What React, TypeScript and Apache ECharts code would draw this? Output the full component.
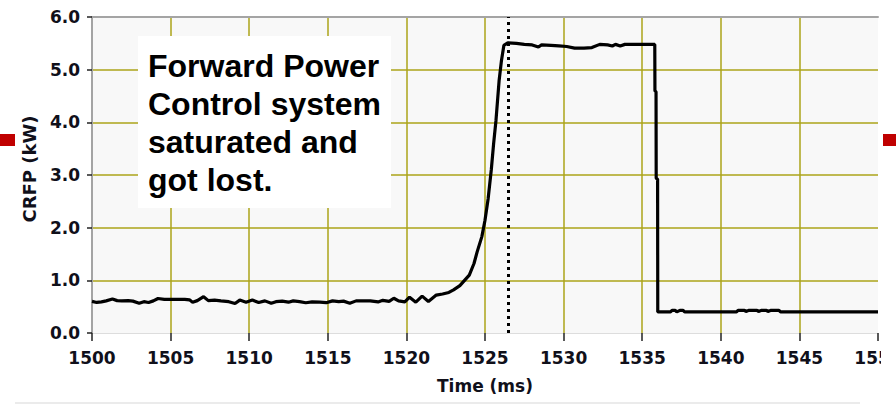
import React, { useEffect, useRef } from "react";
import * as echarts from "echarts";

// Time (ms), CRFP (kW)
const times: number[] = [
  1500.0, 1500.3, 1500.6, 1500.9, 1501.3, 1501.6, 1501.9, 1502.3, 1502.6, 1503.0,
  1503.3, 1503.6, 1503.9, 1504.2, 1504.6, 1505.0, 1505.5, 1505.9, 1506.2, 1506.4,
  1506.7, 1507.1, 1507.4, 1507.8, 1508.2, 1508.7, 1509.1, 1509.4, 1509.8, 1510.2,
  1510.6, 1511.0, 1511.4, 1511.7, 1512.1, 1512.5, 1512.8, 1513.2, 1513.6, 1514.0,
  1514.5, 1514.9, 1515.3, 1515.7, 1516.0, 1516.4, 1516.8, 1517.2, 1517.7, 1518.2,
  1518.5, 1518.9, 1519.2, 1519.5, 1519.9, 1520.2, 1520.6, 1521.0, 1521.4, 1521.9,
  1522.3, 1522.7, 1523.0, 1523.4, 1523.7, 1524.0, 1524.3, 1524.5, 1524.8, 1525.0,
  1525.2, 1525.4, 1525.55, 1525.7, 1525.9, 1526.05, 1526.2, 1526.45, 1527.0, 1527.5,
  1528.0, 1528.4, 1528.6, 1529.2, 1529.7, 1530.2, 1530.7, 1531.3, 1531.8, 1532.3,
  1532.8, 1533.1, 1533.3, 1533.6, 1533.9, 1534.3, 1535.0, 1535.8, 1535.81, 1535.88,
  1535.89, 1535.98, 1535.99, 1536.8, 1536.9, 1537.1, 1537.2, 1537.4, 1537.6, 1537.7,
  1541.0, 1541.1, 1541.5, 1541.6, 1541.8, 1542.3, 1542.4, 1542.6, 1542.9, 1543.0,
  1543.2, 1543.7, 1543.8, 1550.0,
];
const crfp: number[] = [
  0.6, 0.58, 0.59, 0.61, 0.645, 0.615, 0.61, 0.615, 0.605, 0.565,
  0.595, 0.58, 0.61, 0.655, 0.64, 0.64, 0.64, 0.64, 0.63, 0.585,
  0.615, 0.69, 0.615, 0.625, 0.61, 0.595, 0.56, 0.625, 0.585, 0.625,
  0.58, 0.61, 0.565, 0.595, 0.605, 0.585, 0.61, 0.595, 0.575, 0.59,
  0.585, 0.575, 0.61, 0.595, 0.605, 0.565, 0.61, 0.61, 0.61, 0.59,
  0.62, 0.6, 0.66, 0.61, 0.59, 0.68, 0.585, 0.7, 0.6, 0.72,
  0.74, 0.77, 0.82, 0.9, 1.0, 1.1, 1.32, 1.54, 1.83, 2.14,
  2.55, 3.1, 3.6, 4.04, 4.8, 5.18, 5.46, 5.51, 5.5, 5.48,
  5.47, 5.43, 5.47, 5.46, 5.45, 5.44, 5.41, 5.41, 5.42, 5.48,
  5.47, 5.45, 5.48, 5.45, 5.48, 5.48, 5.48, 5.48, 4.6, 4.58,
  2.94, 2.92, 0.4, 0.4, 0.43, 0.43, 0.4, 0.43, 0.43, 0.4,
  0.4, 0.43, 0.43, 0.41, 0.43, 0.43, 0.41, 0.43, 0.43, 0.41,
  0.43, 0.43, 0.4, 0.4,
];
const markerTime = 1526.5;
const annotationLines: string[] = [
  "Forward Power",
  "Control system",
  "saturated and",
  "got lost.",
];
const xTitle = "Time (ms)";
const yTitle = "CRFP (kW)";

const GRID = "#aca41a";
const LABEL = "#10101a";
const TICK_FONT = "'DejaVu Sans', sans-serif";

export default function App() {
  const ref = useRef<HTMLDivElement>(null);
  useEffect(() => {
    if (!ref.current) return;
    const chart = echarts.init(ref.current, undefined, { renderer: "svg" });
    const data = times.map((t, i) => [t, crfp[i]]);
    chart.setOption({
      animation: false,
      backgroundColor: "#ffffff",
      grid: {
        left: 92,
        right: 18,
        top: 17,
        bottom: 71,
        containLabel: false,
        outerBoundsMode: "none",
        show: true,
        backgroundColor: "#f8f8f8",
        borderWidth: 0,
      },
      xAxis: [
        {
          type: "value",
          min: 1500,
          max: 1550,
          interval: 5,
          name: xTitle,
          nameLocation: "middle",
          nameGap: 44,
          nameTextStyle: {
            fontFamily: TICK_FONT,
            fontWeight: "bold",
            fontSize: 17,
            color: LABEL,
          },
          axisLine: { show: true, lineStyle: { color: "#dddddd", width: 1 } },
          axisTick: { show: true, length: 8, lineStyle: { color: "#222", width: 1.5 } },
          axisLabel: {
            margin: 16,
            fontFamily: TICK_FONT,
            fontWeight: "bold",
            fontSize: 17,
            color: LABEL,
            formatter: (v: number) => String(v),
          },
          splitLine: {
            show: true,
            showMinLine: false,
            showMaxLine: false,
            lineStyle: { color: GRID, width: 1.5 },
          },
        },
        {
          type: "value",
          position: "top",
          min: 1500,
          max: 1550,
          interval: 5,
          axisLine: { show: true, lineStyle: { color: "#a4a4a4", width: 2 } },
          axisTick: { show: false },
          axisLabel: { show: false },
          splitLine: { show: false },
        },
      ],
      yAxis: {
        type: "value",
        min: 0,
        max: 6,
        interval: 1,
        name: yTitle,
        nameLocation: "middle",
        nameGap: 52,
        nameRotate: 90,
        nameTextStyle: {
          fontFamily: TICK_FONT,
          fontWeight: "bold",
          fontSize: 18,
          color: LABEL,
          padding: [0, 0, 0, 12],
        },
        axisLine: { show: true, lineStyle: { color: "#a4a4a4", width: 2 } },
        axisTick: { show: true, length: 5, lineStyle: { color: "#222", width: 1.5 } },
        axisLabel: {
          margin: 12,
          fontFamily: TICK_FONT,
          fontWeight: "bold",
          fontSize: 17,
          color: LABEL,
          formatter: (v: number) => v.toFixed(1),
        },
        splitLine: {
          show: true,
          showMinLine: false,
          showMaxLine: false,
          lineStyle: { color: GRID, width: 1.5 },
        },
      },
      series: [
        {
          type: "line",
          data,
          showSymbol: false,
          symbol: "none",
          lineStyle: { color: "#000", width: 3.2 },
          clip: true,
          markLine: {
            silent: true,
            symbol: "none",
            label: { show: false },
            lineStyle: { color: "#000", width: 3, type: [3, 4] },
            data: [{ xAxis: markerTime }],
          },
        },
      ],
      graphic: [
        {
          type: "rect",
          shape: { x: 138, y: 36, width: 253, height: 172 },
          style: { fill: "#ffffff" },
          z: 10,
        },
        {
          type: "text",
          x: 148,
          y: 47,
          z: 11,
          style: {
            text: annotationLines.join("\n"),
            fontFamily: "'Liberation Sans', Arial, sans-serif",
            fontWeight: "bold",
            fontSize: 32,
            lineHeight: 38,
            fill: "#000",
            textVerticalAlign: "top",
          },
        },
        {
          type: "rect",
          shape: { x: 881, y: 0, width: 15, height: 404 },
          style: { fill: "#ffffff" },
          z: 20,
        },
        {
          type: "rect",
          shape: { x: 0, y: 134, width: 15, height: 12 },
          style: { fill: "#c00000" },
          z: 21,
        },
        {
          type: "rect",
          shape: { x: 883, y: 134, width: 13, height: 12 },
          style: { fill: "#c00000" },
          z: 21,
        },
        {
          type: "line",
          shape: { x1: 15, y1: 403, x2: 860, y2: 403 },
          style: { stroke: "#e4e4e4", lineWidth: 1.5 },
          z: 5,
        },
      ],
    });
    return () => chart.dispose();
  }, []);
  return (
    <div
      ref={ref}
      style={{ position: "fixed", left: 0, top: 0, width: 896, height: 404, background: "#fff" }}
    />
  );
}
